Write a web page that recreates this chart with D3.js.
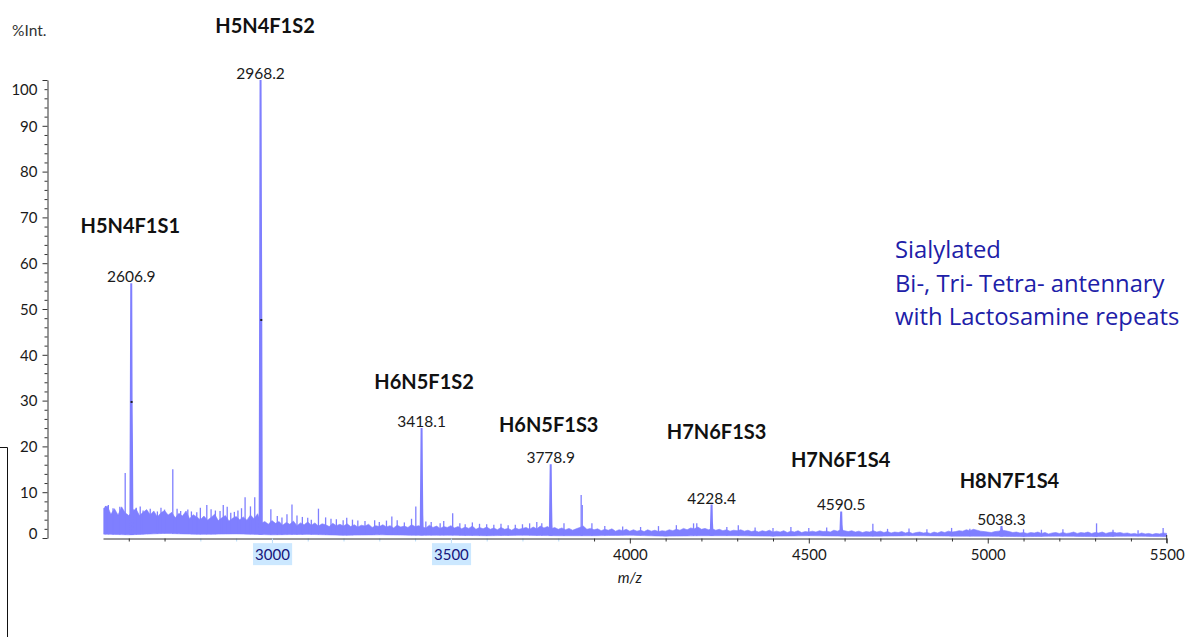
<!DOCTYPE html>
<html>
<head>
<meta charset="utf-8">
<script src="https://cdn.jsdelivr.net/npm/d3@7"></script>
<style>
  html, body { margin: 0; padding: 0; background: #fff; }
  svg { display: block; font-family: Lato, "Open Sans", sans-serif; }
</style>
</head>
<body>
<svg id="chart" width="1189" height="637"></svg>
<script>
// ---- axes ----
const mzRange = [2528, 5500];
const intensityRange = [0, 100];
const xTickValues = [3000, 3500, 4000, 4500, 5000, 5500];
const yTickValues = [0, 10, 20, 30, 40, 50, 60, 70, 80, 90, 100];
const selectedTickLabels = [3000, 3500];
const selectedSpan = [2750, 3850];

// ---- annotated glycan peaks ----
const peakMz = [2606.9, 2968.2, 3418.1, 3778.9, 4228.4, 4590.5, 5038.3];
const peakIntensity = [55.6, 100, 24.0, 16.1, 7.3, 5.8, 2.6];
const peakComposition = ["H5N4F1S1", "H5N4F1S2", "H6N5F1S2", "H6N5F1S3", "H7N6F1S3", "H7N6F1S4", "H8N7F1S4"];
// following isotope signals (+1, +2 Da) of each peak
const isotopeIntensity = [[29.7, 20.7], [73.0, 47.6], [13.0, 5.0], [7.8, 3.0], [3.5, 2.0], [3.0, 2.0], [2.0, 1.5]];
// picked isotope points
const pickedMz = [2607.9, 2970.2];
const pickedIntensity = [29.7, 47.6];

// ---- baseline noise band: upper edge every 10 m/z from 2530 ----
const noiseUpperStart = 2530;
const noiseUpper = [
  6.5, 7.0, 5.2, 6.4, 5.0, 6.8, 5.5, 4.9,
  5.8, 6.4, 4.9, 5.6, 6.2, 5.1, 5.9, 4.6, 5.5, 6.0,
  5.0, 5.6, 4.4, 5.4, 4.8, 5.9, 4.2, 5.1, 4.6, 4.0,
  4.8, 3.9, 4.5, 5.2, 3.8, 4.4, 4.9, 3.7, 4.3, 4.7,
  4.0, 4.6, 3.9, 5.0, 4.2, 5.3, 3.2, 3.6, 3.0, 3.8,
  3.2, 3.6, 2.8, 3.4, 3.0, 3.7, 2.7, 3.3, 2.9, 3.5,
  2.8, 3.3, 2.6, 3.1, 2.9, 2.5, 3.2, 2.7, 3.0, 2.6,
  3.1, 2.5, 2.9, 2.4, 2.8, 2.6, 3.0, 2.3, 2.7, 2.5,
  2.9, 2.4, 2.7, 2.2, 2.8, 2.4, 2.6, 2.3, 2.9, 2.5,
  2.7, 2.4, 2.2, 2.8, 2.3, 2.6, 2.1, 2.5, 2.3, 2.7,
  2.2, 2.5, 2.0, 2.4, 2.1, 2.6, 1.9, 2.3, 2.0, 2.4,
  1.9, 2.2, 1.8, 2.3, 1.9, 2.1, 1.7, 2.2, 1.9, 2.1,
  2.3, 1.9, 2.4, 2.0, 2.6, 2.2, 2.5, 2.0, 2.3, 1.9,
  2.2, 1.8, 2.1, 1.7, 2.0, 2.3, 2.6, 1.9, 2.1, 1.8,
  2.0, 1.6, 1.9, 1.7, 2.0, 1.5, 1.8, 1.6, 1.9, 1.5,
  1.8, 1.5, 1.7, 1.4, 1.8, 1.5, 1.7, 1.4, 1.6, 1.5,
  1.8, 1.6, 1.9, 1.7, 2.1, 1.8, 2.2, 2.0, 2.4, 1.9,
  2.1, 1.8, 2.0, 1.7, 1.9, 1.6, 1.8, 1.5, 1.7, 1.6,
  1.8, 1.5, 1.7, 1.4, 1.6, 1.3, 1.6, 1.4, 1.7, 1.3,
  1.5, 1.3, 1.6, 1.2, 1.5, 1.3, 1.6, 1.2, 1.4, 1.3,
  1.5, 1.3, 1.6, 1.4, 1.5, 1.3, 1.7, 1.5, 1.8, 1.6,
  1.4, 1.6, 1.3, 1.5, 1.2, 1.4, 1.3, 1.6, 1.3, 1.5,
  1.2, 1.4, 1.1, 1.3, 1.2, 1.4, 1.1, 1.3, 1.0, 1.2,
  1.3, 1.1, 1.2, 1.0, 1.3, 1.1, 1.4, 1.2, 1.5, 1.3,
  1.4, 1.6, 1.5, 1.8, 1.6, 1.9, 1.7, 1.5, 1.4, 1.3,
  1.2, 1.4, 1.5, 1.7, 1.6, 1.4, 1.2, 1.3, 1.1, 1.2,
  1.0, 1.2, 1.1, 1.3, 1.0, 1.2, 0.9, 1.1, 1.2, 1.0,
  1.2, 1.0, 1.1, 1.3, 1.0, 1.2, 1.1, 1.3, 1.0, 1.2,
  1.1, 1.3, 1.0, 1.2, 1.3, 1.1, 1.2, 1.0, 1.1, 0.9,
  1.0, 0.8, 1.1, 0.9, 1.0, 0.8, 1.0, 0.9, 1.1, 1.0
];
// lower edge every 100 m/z from 2500
const noiseLowerStart = 2500;
const noiseLower = [
  0.9, 0.7, 1.0, 0.8, 0.9, 0.7, 0.8, 0.6, 0.7, 0.6,
  0.6, 0.5, 0.6, 0.5, 0.5, 0.6, 0.4, 0.5, 0.5, 0.4,
  0.5, 0.4, 0.4, 0.5, 0.4, 0.4, 0.3, 0.4, 0.3, 0.4, 0.3
];

// ---- isolated noise spikes above the band ----
const spikeMz = [
  2535, 2543, 2556, 2575, 2590, 2612, 2621, 2632, 2640, 2652,
  2660, 2680, 2690, 2700, 2723, 2735, 2745, 2765, 2775, 2790,
  2800, 2818, 2830, 2842, 2855, 2864, 2875, 2885, 2895, 2905,
  2915, 2925, 2940, 2952, 2997, 3015, 3028, 3042, 3056, 3070,
  3085, 3100, 3110, 3130, 3150, 3165, 3180, 3199, 3209, 3225,
  3240, 3260, 3287, 3300, 3320, 3335, 3350, 3370, 3390, 3402,
  3430, 3445, 3470, 3480, 3505, 3525, 3540, 3560, 3580, 3600,
  3620, 3640, 3660, 3680, 3700, 3720, 3740, 3754, 3816, 3864,
  3867, 3894, 3930, 3980, 4030, 4080, 4130, 4178, 4187, 4271,
  4303, 4350, 4400, 4450, 4500, 4550, 4679, 4720, 4780, 4830,
  4899, 4950, 5100, 5150, 5210, 5304, 5350, 5420, 5490
];
const spikeIntensity = [
  7.0, 7.2, 6.5, 6.8, 14.2, 6.3, 6.6, 6.9, 6.0, 5.9,
  6.4, 5.8, 6.6, 6.2, 15.0, 6.4, 5.9, 6.2, 5.8, 5.6,
  6.6, 7.2, 6.3, 6.0, 5.9, 7.2, 6.8, 5.5, 5.7, 6.0,
  6.5, 8.9, 6.9, 8.9, 6.3, 4.8, 4.5, 5.2, 7.3, 4.9,
  4.6, 4.4, 4.0, 6.4, 4.5, 4.2, 4.1, 3.9, 4.4, 4.0,
  3.8, 3.7, 3.9, 3.5, 3.8, 4.7, 3.9, 3.4, 4.2, 6.9,
  3.6, 3.5, 3.2, 3.7, 5.4, 3.2, 3.0, 3.4, 3.1, 3.0,
  2.9, 3.1, 2.8, 2.9, 3.0, 3.2, 3.5, 3.2, 3.2, 9.4,
  7.2, 3.2, 2.6, 2.5, 2.4, 2.6, 2.8, 3.2, 3.2, 2.4,
  2.8, 2.3, 2.2, 2.4, 2.2, 2.3, 3.1, 2.0, 2.1, 1.9,
  2.2, 2.0, 1.9, 1.8, 1.9, 3.2, 1.8, 1.7, 2.2
];

const noteLines = ["Sialylated", "Bi-, Tri- Tetra- antennary", "with Lactosamine repeats"];

// ---- label placement (px offsets from each peak apex) ----
const compositionOffset = [[-1, -58], [4.5, -55], [2.5, -47], [-2, -40], [5, -74], [-0.5, -52], [8, -46]];

// =====================================================
const svg = d3.select("#chart");
const specColor = "#7f7fff";
const axisColor = "#333";
const textColor = "#1a1a1a";

const x = d3.scaleLinear().domain(mzRange).range([103, 1166.7]);
const y = d3.scaleLinear().domain(intensityRange).range([538, 80]);

const upperPts = noiseUpper.map((v, i) => [noiseUpperStart + i * 10, v]);
const lowerAt = mz => {
  const t = (mz - noiseLowerStart) / 100;
  const i = Math.max(0, Math.min(noiseLower.length - 2, Math.floor(t)));
  const f = Math.max(0, Math.min(1, t - i));
  return noiseLower[i] * (1 - f) + noiseLower[i + 1] * f;
};

svg.append("clipPath").attr("id", "plotClip")
  .append("rect").attr("x", 103).attr("y", 0).attr("width", 1064).attr("height", 540);
const plot = svg.append("g").attr("clip-path", "url(#plotClip)");

// noise band
plot.append("path")
  .datum(upperPts)
  .attr("fill", specColor)
  .attr("stroke", specColor)
  .attr("stroke-width", 0.6)
  .attr("d", d3.area()
    .x(d => x(d[0]))
    .y0(d => y(lowerAt(d[0])))
    .y1(d => y(d[1])));

// spikes
plot.append("g").selectAll("line")
  .data(spikeMz.map((m, i) => [m, spikeIntensity[i]]))
  .join("line")
  .attr("x1", d => x(d[0])).attr("x2", d => x(d[0]))
  .attr("y1", d => y(lowerAt(d[0])))
  .attr("y2", d => y(d[1]))
  .attr("stroke", specColor)
  .attr("stroke-width", 1.3);

// annotated peaks with isotope shoulders
const peakLine = d3.line().x(d => x(d[0])).y(d => y(d[1]));
plot.append("g").selectAll("path")
  .data(peakMz.map((m, i) => [
    [m - 2.5, lowerAt(m)],
    [m, peakIntensity[i]],
    [m + 1, isotopeIntensity[i][0]],
    [m + 2, isotopeIntensity[i][1]],
    [m + 3.5, lowerAt(m)]
  ]))
  .join("path")
  .attr("d", peakLine)
  .attr("fill", specColor)
  .attr("stroke", specColor)
  .attr("stroke-width", 2)
  .attr("stroke-linejoin", "miter");

// picked points
plot.append("g").selectAll("rect")
  .data(pickedMz.map((m, i) => [m, pickedIntensity[i]]))
  .join("rect")
  .attr("x", d => x(d[0]) - 1).attr("y", d => y(d[1]) - 1)
  .attr("width", 2).attr("height", 2)
  .attr("fill", "#222");

// ---- y axis ----
const yAxisG = svg.append("g").attr("transform", "translate(47.5,0)");
const yMinor = d3.range(0, 101, 2).filter(v => v % 10 !== 0);
yAxisG.append("g").call(d3.axisLeft(y).tickValues(yMinor).tickSize(3).tickFormat(""))
  .call(g => g.select(".domain").remove());
yAxisG.append("g").call(d3.axisLeft(y).tickValues(yTickValues).tickSize(5).tickPadding(5).tickSizeOuter(0))
  .call(g => g.selectAll(".tick text")
    .attr("font-size", 15).attr("font-family", "Lato")
    .attr("fill", textColor)
    .attr("dy", d => d === 100 ? "0.95em" : d === 0 ? "0.05em" : "0.35em"));
yAxisG.selectAll("line, path").attr("stroke", axisColor);

// ---- x axis ----
const xAxisG = svg.append("g").attr("transform", "translate(0,538.5)");
const inSpan = v => v >= selectedSpan[0] && v <= selectedSpan[1];
const xMinor = d3.range(2600, 5500, 100).filter(v => v % 500 !== 0);
xAxisG.append("g").call(d3.axisBottom(x).tickValues(xMinor).tickSize(3).tickFormat(""))
  .call(g => g.select(".domain").remove())
  .call(g => g.selectAll(".tick line").attr("stroke", d => inSpan(d) ? "#b8dcf8" : axisColor));
const xMajor = xAxisG.append("g").call(
  d3.axisBottom(x).tickValues(xTickValues).tickFormat(d3.format("d"))
    .tickSize(5).tickPadding(6).tickSizeOuter(0));
xMajor.select(".domain").attr("stroke", axisColor);
xMajor.selectAll(".tick line").attr("stroke", d => inSpan(d) ? "#b8dcf8" : axisColor);
xMajor.selectAll(".tick").each(function (d) {
  const t = d3.select(this);
  const txt = t.select("text")
    .attr("font-size", 15).attr("font-family", "Lato")
    .attr("fill", selectedTickLabels.includes(d) ? "#14147a" : textColor);
  if (selectedTickLabels.includes(d)) {
    const bb = txt.node().getBBox();
    t.insert("rect", "text")
      .attr("x", bb.x - 2).attr("y", bb.y - 2)
      .attr("width", bb.width + 4).attr("height", bb.height + 4)
      .attr("fill", "#cce8ff");
  }
});
// closing tick at the right end of the axis
svg.append("line")
  .attr("x1", x(5500)).attr("x2", x(5500))
  .attr("y1", 535).attr("y2", 543).attr("stroke", axisColor);

// axis titles
svg.append("text").attr("x", 12).attr("y", 30).attr("dominant-baseline", "central")
  .attr("font-size", 15.5).attr("fill", "#333").text("%Int.");
svg.append("text").attr("x", x(4000)).attr("y", 577).attr("dominant-baseline", "central")
  .attr("text-anchor", "middle").attr("font-size", 15).attr("font-style", "italic")
  .attr("fill", textColor).text("m/z");

// ---- peak labels ----
const labels = svg.append("g");
peakMz.forEach((m, i) => {
  const px = x(m), py = y(peakIntensity[i]);
  labels.append("text")
    .attr("x", px).attr("y", py - 7)
    .attr("text-anchor", "middle").attr("dominant-baseline", "central")
    .attr("font-size", 15.5).attr("fill", textColor)
    .text(m.toFixed(1));
  labels.append("text")
    .attr("x", px + compositionOffset[i][0]).attr("y", py + compositionOffset[i][1])
    .attr("text-anchor", "middle").attr("dominant-baseline", "central")
    .attr("font-size", 20).attr("font-weight", 700).attr("fill", "#111")
    .text(peakComposition[i]);
});

// ---- note ----
svg.append("g").selectAll("text")
  .data(noteLines)
  .join("text")
  .attr("x", 895).attr("y", (d, i) => 249 + i * 33.5)
  .attr("dominant-baseline", "central")
  .attr("font-family", "'Open Sans', Lato, sans-serif")
  .attr("font-size", 23.8).attr("fill", "#2020a8")
  .text(d => d);

// ---- frame fragment at the left edge ----
svg.append("path")
  .attr("d", "M0,447.5H7.5V637")
  .attr("fill", "none").attr("stroke", "#111").attr("stroke-width", 1);
</script>
</body>
</html>
